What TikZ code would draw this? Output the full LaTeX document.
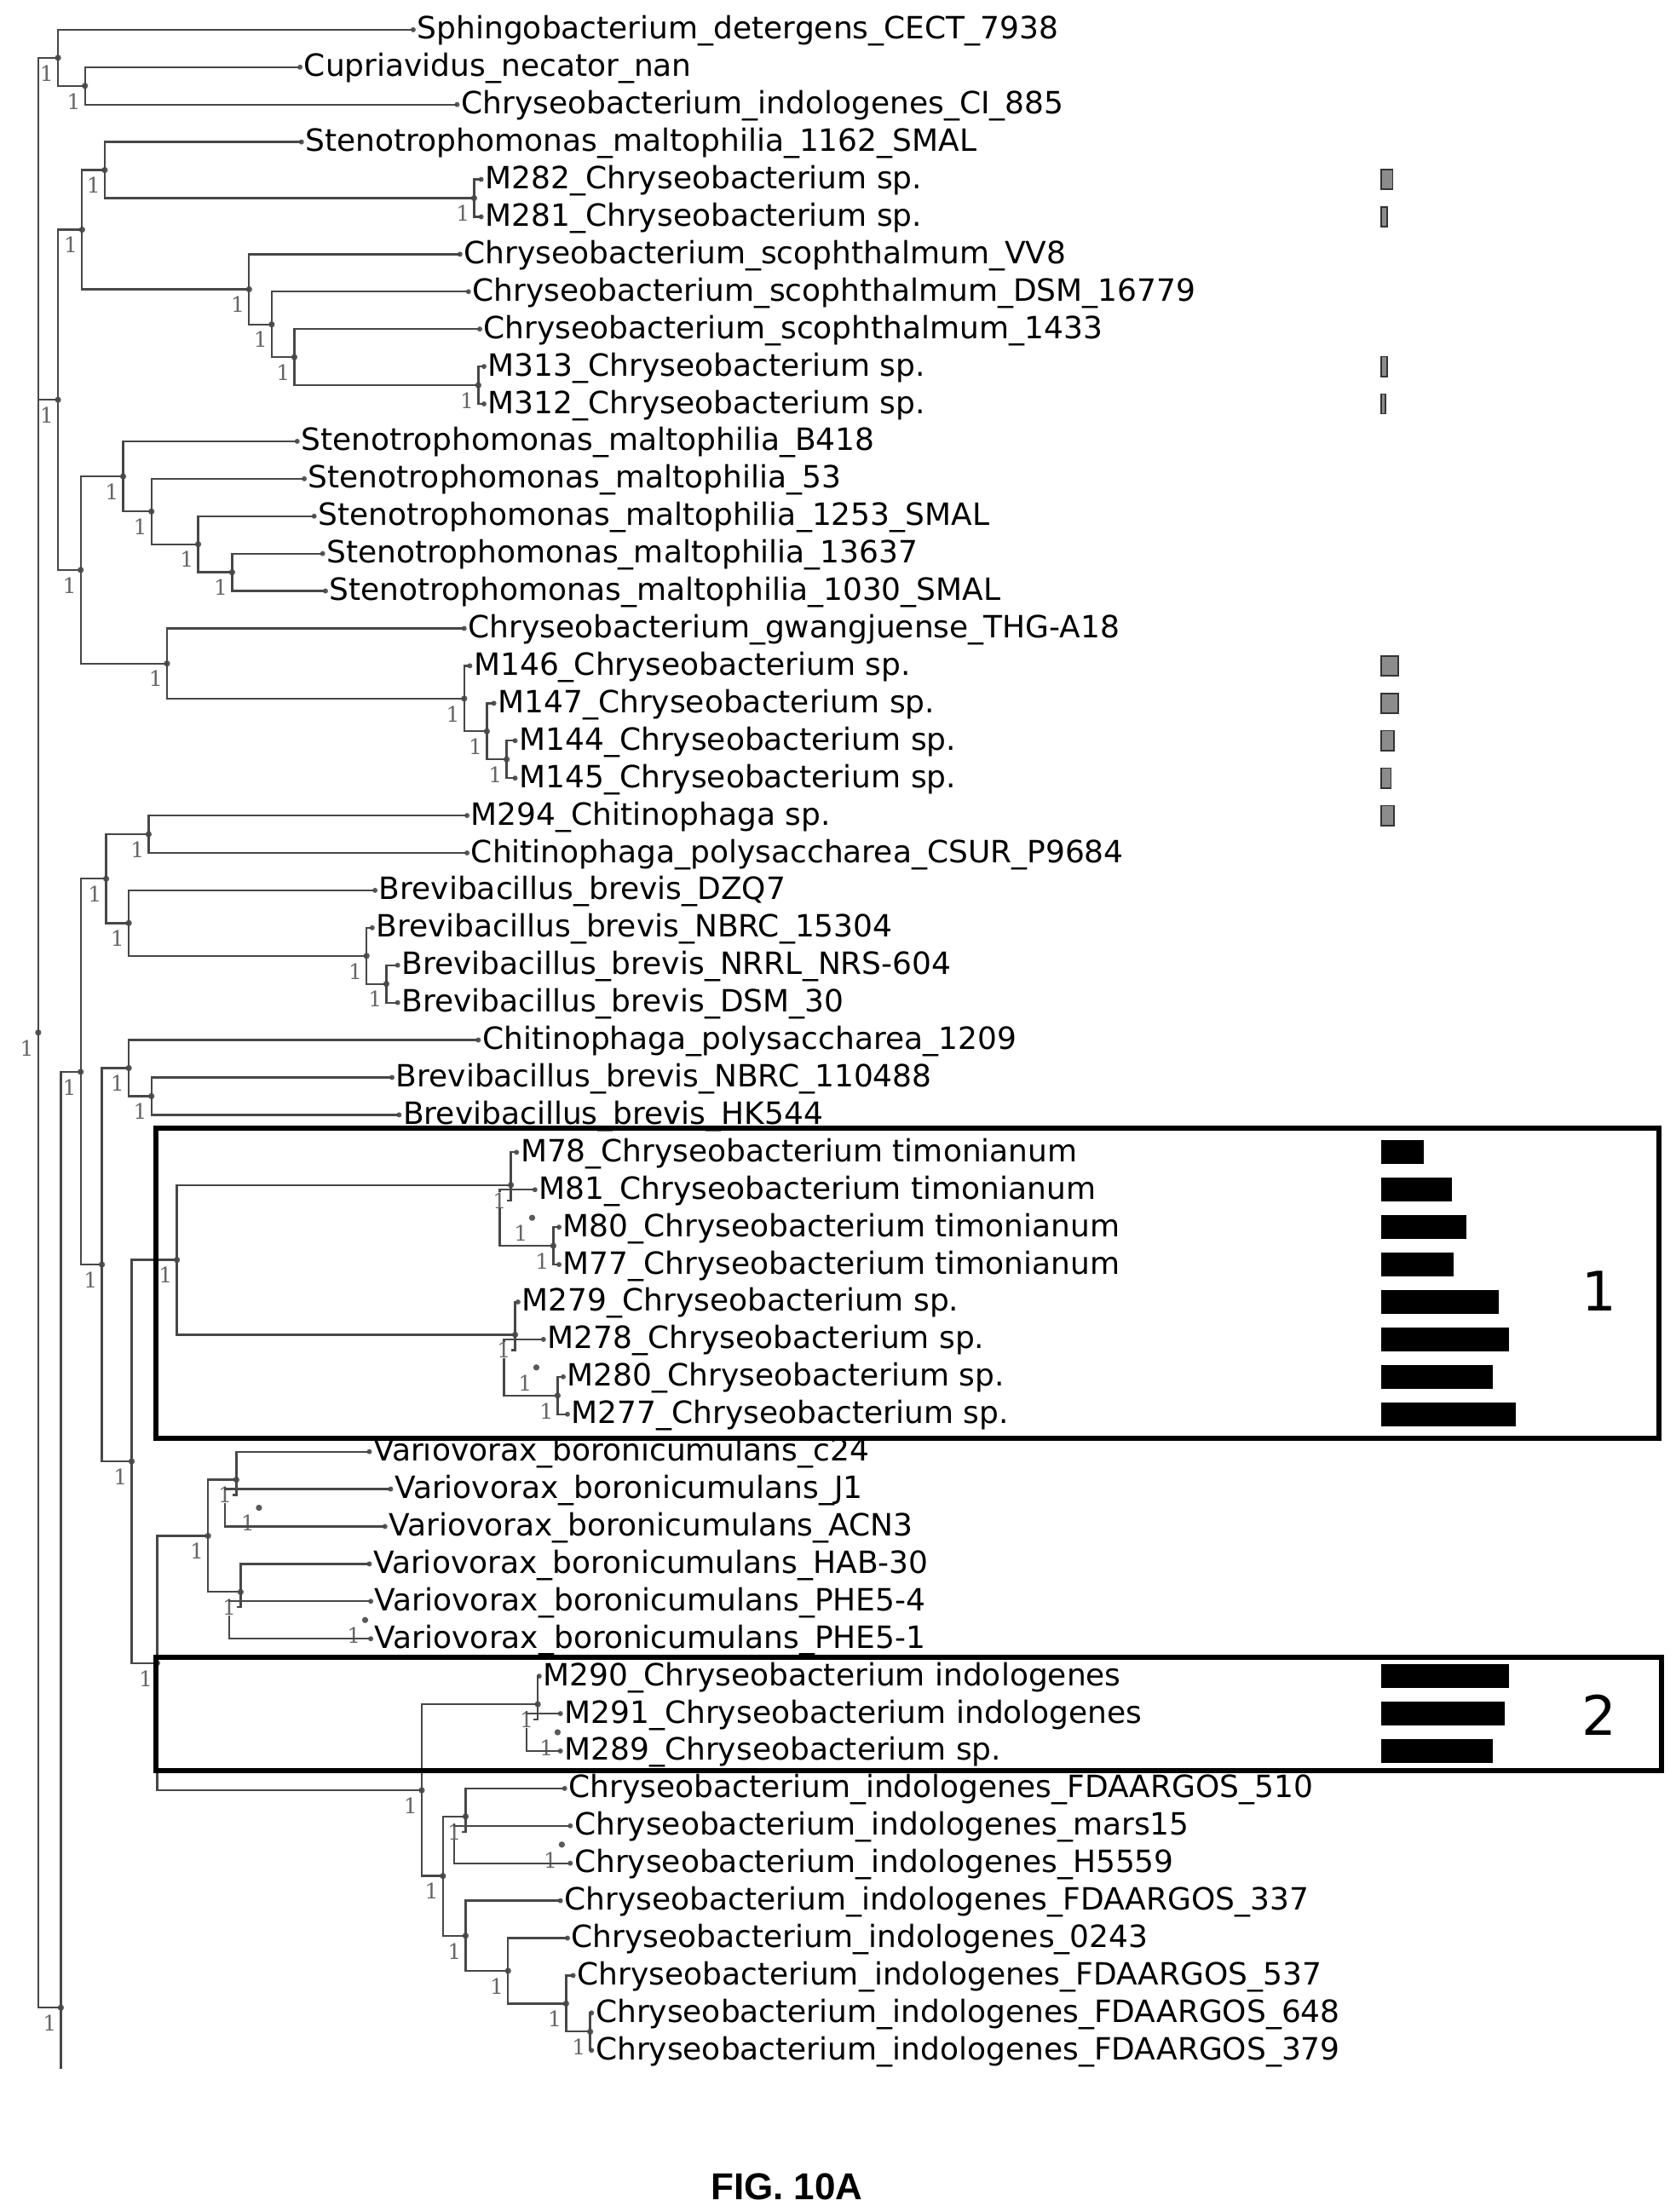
\documentclass[tikz,border=0pt]{standalone}
\usepackage{fontspec}
\setmainfont{DejaVu Sans}
\newfontfamily\bsf{DejaVu Serif}
\newfontfamily\arl{Liberation Sans}
\newcommand\Leaf[4]{\coordinate (#1) at (#2,{21+26.44*#3}); \fill[dotc] (#1) circle[radius=1.8]; \node[leaf] (#1t) at ([xshift=2.2pt,yshift=-5.5pt]#1) {#4};}
\newcommand\Inner[3]{\coordinate (#1) at (#2,{21+26.44*#3}); \fill[dotc] (#1) circle[radius=2.2]; \node[blab] (#1b) at ([xshift=-6.6pt,yshift=-9pt]#1) {1};}
\newcommand\Kids[2]{\foreach \c in {#2} {\draw[edge] (#1) |- (\c);}}
\newcommand\GBar[2]{\draw[gbar] (976,{21+26.44*#1-7}) rectangle (#2,{21+26.44*#1+7});}
\newcommand\KBar[2]{\fill[black] (976,{21+26.44*#1-8.5}) rectangle (#2,{21+26.44*#1+8.5});}
\begin{document}
\begin{tikzpicture}[x=0.8307pt,y=-0.8307pt,
  edge/.style={draw=black!72,line width=1.15pt},
  dotc/.style={fill=black!65},
  leaf/.style={anchor=base west,inner sep=0pt,font=\fontsize{18}{20}\selectfont},
  blab/.style={inner sep=0pt,text=black!60,font=\bsf\fontsize{12.5}{12.5}\selectfont},
  gbar/.style={fill=black!45,draw=black!80,line width=0.8pt},
  box/.style={draw=black,line width=3pt}]
\useasboundingbox (0,0) rectangle (1184,1563);
% leaves
\Leaf{l0}{292}{0}{Sphingobacterium\_detergens\_CECT\_7938}
\Leaf{l1}{212}{1}{Cupriavidus\_necator\_nan}
\Leaf{l2}{323}{2}{Chryseobacterium\_indologenes\_CI\_885}
\Leaf{l3}{213}{3}{Stenotrophomonas\_maltophilia\_1162\_SMAL}
\Leaf{l4}{340}{4}{M282\_Chryseobacterium sp.}
\Leaf{l5}{340}{5}{M281\_Chryseobacterium sp.}
\Leaf{l6}{325}{6}{Chryseobacterium\_scophthalmum\_VV8}
\Leaf{l7}{331}{7}{Chryseobacterium\_scophthalmum\_DSM\_16779}
\Leaf{l8}{339}{8}{Chryseobacterium\_scophthalmum\_1433}
\Leaf{l9}{342}{9}{M313\_Chryseobacterium sp.}
\Leaf{l10}{342}{10}{M312\_Chryseobacterium sp.}
\Leaf{l11}{210}{11}{Stenotrophomonas\_maltophilia\_B418}
\Leaf{l12}{215}{12}{Stenotrophomonas\_maltophilia\_53}
\Leaf{l13}{222}{13}{Stenotrophomonas\_maltophilia\_1253\_SMAL}
\Leaf{l14}{228}{14}{Stenotrophomonas\_maltophilia\_13637}
\Leaf{l15}{230}{15}{Stenotrophomonas\_maltophilia\_1030\_SMAL}
\Leaf{l16}{328}{16}{Chryseobacterium\_gwangjuense\_THG-A18}
\Leaf{l17}{332}{17}{M146\_Chryseobacterium sp.}
\Leaf{l18}{349}{18}{M147\_Chryseobacterium sp.}
\Leaf{l19}{364}{19}{M144\_Chryseobacterium sp.}
\Leaf{l20}{364}{20}{M145\_Chryseobacterium sp.}
\Leaf{l21}{330}{21}{M294\_Chitinophaga sp.}
\Leaf{l22}{330}{22}{Chitinophaga\_polysaccharea\_CSUR\_P9684}
\Leaf{l23}{265}{23}{Brevibacillus\_brevis\_DZQ7}
\Leaf{l24}{263}{24}{Brevibacillus\_brevis\_NBRC\_15304}
\Leaf{l25}{281}{25}{Brevibacillus\_brevis\_NRRL\_NRS-604}
\Leaf{l26}{281}{26}{Brevibacillus\_brevis\_DSM\_30}
\Leaf{l27}{338}{27}{Chitinophaga\_polysaccharea\_1209}
\Leaf{l28}{277}{28}{Brevibacillus\_brevis\_NBRC\_110488}
\Leaf{l29}{282}{29}{Brevibacillus\_brevis\_HK544}
\Leaf{l30}{365}{30}{M78\_Chryseobacterium timonianum}
\Leaf{l31}{378}{31}{M81\_Chryseobacterium timonianum}
\Leaf{l32}{395}{32}{M80\_Chryseobacterium timonianum}
\Leaf{l33}{395}{33}{M77\_Chryseobacterium timonianum}
\Leaf{l34}{366}{34}{M279\_Chryseobacterium sp.}
\Leaf{l35}{384}{35}{M278\_Chryseobacterium sp.}
\Leaf{l36}{398}{36}{M280\_Chryseobacterium sp.}
\Leaf{l37}{401}{37}{M277\_Chryseobacterium sp.}
\Leaf{l38}{261}{38}{Variovorax\_boronicumulans\_c24}
\Leaf{l39}{276}{39}{Variovorax\_boronicumulans\_J1}
\Leaf{l40}{272}{40}{Variovorax\_boronicumulans\_ACN3}
\Leaf{l41}{261}{41}{Variovorax\_boronicumulans\_HAB-30}
\Leaf{l42}{262}{42}{Variovorax\_boronicumulans\_PHE5-4}
\Leaf{l43}{262}{43}{Variovorax\_boronicumulans\_PHE5-1}
\Leaf{l44}{381}{44}{M290\_Chryseobacterium indologenes}
\Leaf{l45}{396}{45}{M291\_Chryseobacterium indologenes}
\Leaf{l46}{396}{46}{M289\_Chryseobacterium sp.}
\Leaf{l47}{399}{47}{Chryseobacterium\_indologenes\_FDAARGOS\_510}
\Leaf{l48}{403}{48}{Chryseobacterium\_indologenes\_mars15}
\Leaf{l49}{403}{49}{Chryseobacterium\_indologenes\_H5559}
\Leaf{l50}{396}{50}{Chryseobacterium\_indologenes\_FDAARGOS\_337}
\Leaf{l51}{401}{51}{Chryseobacterium\_indologenes\_0243}
\Leaf{l52}{405}{52}{Chryseobacterium\_indologenes\_FDAARGOS\_537}
\Leaf{l53}{418}{53}{Chryseobacterium\_indologenes\_FDAARGOS\_648}
\Leaf{l54}{418}{54}{Chryseobacterium\_indologenes\_FDAARGOS\_379}
% internal nodes
\Inner{nB}{60}{1.5}
\Inner{nA}{41}{0.75}
\Inner{nD1}{335}{4.5}
\Inner{nD}{74}{3.75}
\Inner{nE4}{338}{9.5}
\Inner{nE3}{208}{8.75}
\Inner{nE2}{192}{7.875}
\Inner{nE}{176}{6.9375}
\Inner{nC}{58}{5.344}
\Inner{nH4}{164}{14.5}
\Inner{nH3}{140}{13.75}
\Inner{nH2}{107}{12.875}
\Inner{nH}{87}{11.9375}
\Inner{nK4}{358}{19.5}
\Inner{nK3}{344}{18.75}
\Inner{nK2}{328}{17.875}
\Inner{nK}{118}{16.9375}
\Inner{nG}{57}{14.4375}
\Inner{nF}{41}{9.89}
\Inner{nN1}{105}{21.5}
\Inner{nN4}{273}{25.5}
\Inner{nN3}{259}{24.75}
\Inner{nN2}{91}{23.875}
\Inner{nN}{75}{22.69}
\Inner{nP2}{107}{28.5}
\Inner{nP1}{91}{27.75}
\Inner{nU1c}{391}{32.5}
\Inner{nU1b}{376}{31.75}
\Inner{nU1}{361}{30.875}
\Inner{nU2c}{394}{36.5}
\Inner{nU2b}{379}{35.75}
\Inner{nU2}{364}{34.875}
\Inner{nU}{125}{32.875}
\Inner{nW1b}{183}{39.5}
\Inner{nW1}{167}{38.75}
\Inner{nW2b}{258}{42.5}
\Inner{nW2}{170}{41.75}
\Inner{nW}{147}{40.25}
\Inner{nX1b}{394}{45.5}
\Inner{nX1}{380}{44.75}
\Inner{nX3b}{397}{48.5}
\Inner{nX3}{329}{47.75}
\Inner{nX7}{417}{53.5}
\Inner{nX6}{400}{52.75}
\Inner{nX5}{359}{51.875}
\Inner{nX4}{329}{50.9375}
\Inner{nX2}{313}{49.34}
\Inner{nX}{298}{47.05}
\Inner{nV}{111}{43.65}
\Inner{nT}{93}{38.26}
\Inner{nP}{72}{33.0}
\Inner{nM}{57}{27.85}
\Inner{nS}{43}{52.86}
\Inner{nQ}{27}{26.8}
\coordinate (sEnd) at (43,{21+26.44*54.5});
% edges
\Kids{nA}{l0,nB}
\Kids{nB}{l1,l2}
\Kids{nD}{l3,nD1}
\Kids{nD1}{l4,l5}
\Kids{nE}{l6,nE2}
\Kids{nE2}{l7,nE3}
\Kids{nE3}{l8,nE4}
\Kids{nE4}{l9,l10}
\Kids{nC}{nD,nE}
\Kids{nH}{l11,nH2}
\Kids{nH2}{l12,nH3}
\Kids{nH3}{l13,nH4}
\Kids{nH4}{l14,l15}
\Kids{nK}{l16,nK2}
\Kids{nK2}{l17,nK3}
\Kids{nK3}{l18,nK4}
\Kids{nK4}{l19,l20}
\Kids{nG}{nH,nK}
\Kids{nF}{nC,nG}
\Kids{nN1}{l21,l22}
\Kids{nN4}{l25,l26}
\Kids{nN3}{l24,nN4}
\Kids{nN2}{l23,nN3}
\Kids{nN}{nN1,nN2}
\Kids{nP2}{l28,l29}
\Kids{nP1}{l27,nP2}
\Kids{nU1c}{l32,l33}
\Kids{nU1b}{l31,nU1c}
\Kids{nU1}{l30,nU1b}
\Kids{nU2c}{l36,l37}
\Kids{nU2b}{l35,nU2c}
\Kids{nU2}{l34,nU2b}
\Kids{nU}{nU1,nU2}
\Kids{nW1b}{l39,l40}
\Kids{nW1}{l38,nW1b}
\Kids{nW2b}{l42,l43}
\Kids{nW2}{l41,nW2b}
\Kids{nW}{nW1,nW2}
\Kids{nX1b}{l45,l46}
\Kids{nX1}{l44,nX1b}
\Kids{nX3b}{l48,l49}
\Kids{nX3}{l47,nX3b}
\Kids{nX7}{l53,l54}
\Kids{nX6}{l52,nX7}
\Kids{nX5}{l51,nX6}
\Kids{nX4}{l50,nX5}
\Kids{nX2}{nX3,nX4}
\Kids{nX}{nX1,nX2}
\Kids{nV}{nW,nX}
\Kids{nT}{nU,nV}
\Kids{nP}{nP1,nT}
\Kids{nM}{nN,nP}
\Kids{nS}{nM}
\draw[edge] (nS) -- (sEnd);
\Kids{nQ}{nA,nF,nS}
% bars
\GBar{4}{984}
\GBar{5}{980}
\GBar{9}{980}
\GBar{10}{979}
\GBar{17}{988}
\GBar{18}{988}
\GBar{19}{985}
\GBar{20}{983}
\GBar{21}{985}
\KBar{30}{1006}
\KBar{31}{1026}
\KBar{32}{1036}
\KBar{33}{1027}
\KBar{34}{1059}
\KBar{35}{1066}
\KBar{36}{1055}
\KBar{37}{1071}
\KBar{44}{1066}
\KBar{45}{1063}
\KBar{46}{1055}
% boxes
\draw[box] (110,797) rectangle (1172,1016);
\draw[box] (110,1171) rectangle (1174,1251);
\node[font=\fontsize{32}{32}\selectfont] (g1) at (1130,912) {1};
\node[font=\fontsize{32}{32}\selectfont] (g2) at (1130,1212) {2};
\node[font=\arl\bfseries\fontsize{22}{22}\selectfont] (fig) at (556,1545) {FIG. 10A};
\end{tikzpicture}
\end{document}
